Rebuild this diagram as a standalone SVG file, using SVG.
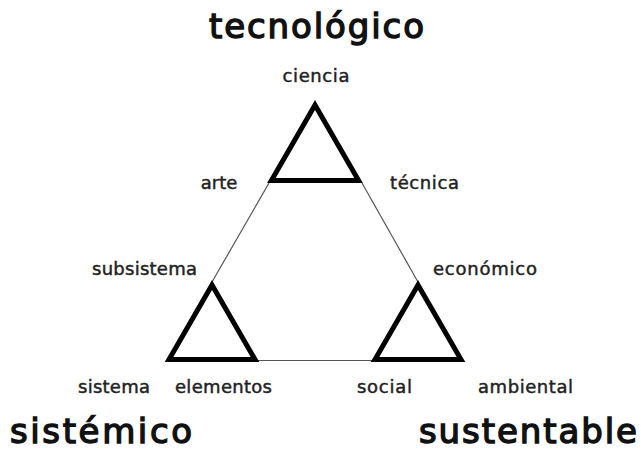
<svg xmlns="http://www.w3.org/2000/svg" width="641" height="455" viewBox="0 0 641 455">
  <style>
    .tri { fill: none; stroke: #000; stroke-width: 5; stroke-linejoin: miter; }
    .link { stroke: #555; stroke-width: 1.2; fill: none; }
    .lbl { font-family: "DejaVu Sans", sans-serif; font-size: 18px; fill: #222; stroke: #222; stroke-width: 0.45; text-anchor: middle; }
    .ttl { font-family: "DejaVu Sans", sans-serif; font-size: 34px; fill: #111; stroke: #111; stroke-width: 1.4; text-anchor: middle; }
  </style>
  <rect width="641" height="455" fill="#fff"/>
  <g id="connectors">
    <line class="link" x1="269" y1="183" x2="212" y2="282"/>
    <line class="link" x1="362" y1="183" x2="418" y2="282"/>
    <line class="link" x1="258" y1="360.5" x2="373" y2="360.5"/>
  </g>
  <g id="tecnologico">
    <polygon class="tri" points="315,105 358.6,180.5 271.4,180.5"/>
    <text class="ttl" x="316.5" y="38" textLength="215">tecnológico</text>
    <text class="lbl" x="316" y="82" textLength="67">ciencia</text>
    <text class="lbl" x="219" y="189">arte</text>
    <text class="lbl" x="424.5" y="189" textLength="69">técnica</text>
  </g>
  <g id="sistemico">
    <polygon class="tri" points="212,285 255,359.5 169,359.5"/>
    <text class="ttl" x="101" y="443" textLength="182">sistémico</text>
    <text class="lbl" x="144.5" y="275" textLength="105">subsistema</text>
    <text class="lbl" x="114" y="393" textLength="72">sistema</text>
    <text class="lbl" x="223.5" y="393" textLength="97">elementos</text>
  </g>
  <g id="sustentable">
    <polygon class="tri" points="418,285 461,359.5 375,359.5"/>
    <text class="ttl" x="528" y="443" textLength="218">sustentable</text>
    <text class="lbl" x="485" y="275" textLength="104">económico</text>
    <text class="lbl" x="384.5" y="393" textLength="55">social</text>
    <text class="lbl" x="525.5" y="393" textLength="95">ambiental</text>
  </g>
</svg>
